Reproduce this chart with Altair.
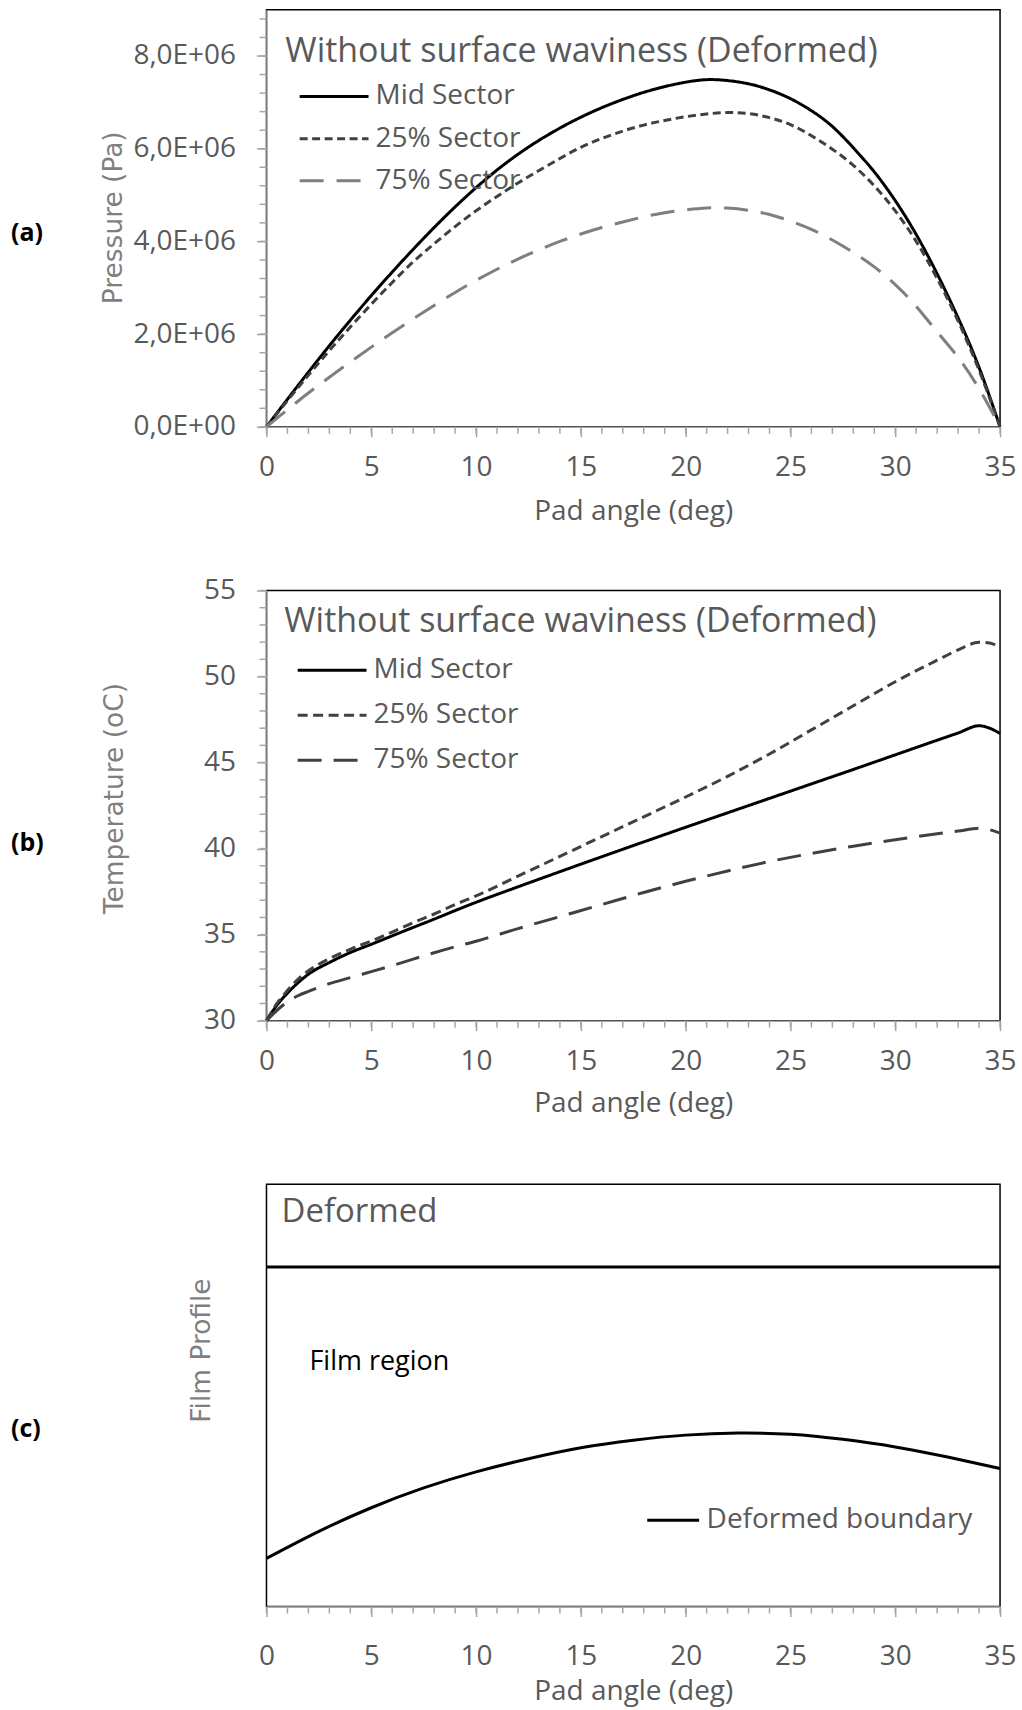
import altair as alt
import pandas as pd

# ---------------- data ----------------
# (a) pressure (Pa) vs pad angle (deg)
p_angle = list(range(36))
p_mid = [0, 0.595e6, 1.18e6, 1.75e6, 2.30e6, 2.83e6, 3.34e6, 3.83e6, 4.30e6, 4.745e6,
         5.16e6, 5.54e6, 5.88e6, 6.18e6, 6.445e6, 6.68e6, 6.885e6, 7.063e6, 7.216e6, 7.34e6,
         7.435e6, 7.49e6, 7.47e6, 7.40e6, 7.27e6, 7.08e6, 6.82e6, 6.48e6, 6.02e6, 5.50e6,
         4.88e6, 4.15e6, 3.30e6, 2.35e6, 1.28e6, 0]
p_25 = [0, 0.565e6, 1.115e6, 1.645e6, 2.155e6, 2.645e6, 3.115e6, 3.56e6, 3.95e6, 4.32e6,
        4.66e6, 4.97e6, 5.26e6, 5.53e6, 5.79e6, 6.03e6, 6.22e6, 6.38e6, 6.51e6, 6.61e6,
        6.69e6, 6.75e6, 6.78e6, 6.76e6, 6.67e6, 6.52e6, 6.28e6, 5.99e6, 5.64e6, 5.20e6,
        4.66e6, 4.00e6, 3.20e6, 2.28e6, 1.22e6, 0]
p_75 = [0, 0.37e6, 0.73e6, 1.07e6, 1.40e6, 1.72e6, 2.03e6, 2.33e6, 2.62e6, 2.90e6,
        3.16e6, 3.40e6, 3.62e6, 3.82e6, 4.00e6, 4.16e6, 4.30e6, 4.42e6, 4.53e6, 4.62e6,
        4.68e6, 4.72e6, 4.72e6, 4.67e6, 4.58e6, 4.44e6, 4.26e6, 4.03e6, 3.76e6, 3.45e6,
        3.07e6, 2.60e6, 2.05e6, 1.50e6, 0.82e6, 0]

# (b) temperature (oC) vs pad angle (deg)
t_angle = [0, 0.5, 1, 1.5, 2, 3, 4, 5, 6, 7, 8, 9, 10, 12, 14, 16, 18, 20, 22, 24, 26,
           28, 30, 32, 33, 34, 34.5, 35]
t_mid = [30, 30.9, 31.6, 32.2, 32.7, 33.38, 33.96, 34.44, 34.93, 35.42, 35.9, 36.4, 36.88,
         37.78, 38.66, 39.53, 40.39, 41.24, 42.08, 42.92, 43.76, 44.6, 45.45, 46.3, 46.72,
         47.14, 47.0, 46.69]
t_25 = [30, 31.0, 31.75, 32.4, 32.9, 33.6, 34.15, 34.63, 35.15, 35.7, 36.2, 36.75, 37.25,
        38.4, 39.55, 40.7, 41.85, 43.0, 44.2, 45.5, 46.9, 48.3, 49.7, 50.95, 51.55, 51.99,
        51.95, 51.7]
t_75 = [30, 30.6, 31.1, 31.45, 31.7, 32.15, 32.5, 32.85, 33.2, 33.58, 33.95, 34.3, 34.62,
        35.35, 36.05, 36.75, 37.45, 38.1, 38.7, 39.25, 39.72, 40.14, 40.52, 40.86, 41.02,
        41.18, 41.1, 40.9]

# (c) film profile (arbitrary units) vs pad angle (deg)
f_angle = [0, 2.5, 5, 7.5, 10, 12.5, 15, 17.5, 20, 22.5, 25, 27.5, 30, 32.5, 35]
f_boundary = [1.14, 1.78, 2.34, 2.81, 3.19, 3.50, 3.76, 3.94, 4.06, 4.11, 4.08, 3.96,
              3.78, 3.54, 3.27]
f_upper_angle = [0, 35]
f_upper = [8.04, 8.04]

series = ["Mid Sector", "25% Sector", "75% Sector"]
x_ticks = [0, 5, 10, 15, 20, 25, 30, 35]
x_minor = list(range(36))
pa_ticks = [0, 2e6, 4e6, 6e6, 8e6]
pa_minor = [i * 4e5 for i in range(23)]
t_ticks = [30, 35, 40, 45, 50, 55]
t_minor = list(range(30, 56))

# ---------------- style ----------------
FONT = "Open Sans"
YFONT = "DejaVu Sans"
TXT = "#595959"
YTXT = "#7f7f7f"
AX = "#a6a6a6"
W = 735
HA, HB, HC = 418, 431, 423
XDOM = alt.Scale(domain=[0, 35], nice=False, zero=False)
LEG_PATH = "M-2,0H2"


def x_axis(lab_pad, title_y):
    return alt.Axis(values=x_ticks, title="Pad angle (deg)", grid=False,
                    tickSize=10, tickColor=AX, tickWidth=1.5,
                    domainColor=AX, domainWidth=1.5,
                    labelFont=FONT, labelFontSize=28, labelColor=TXT,
                    labelPadding=lab_pad, labelFlush=False, labelOverlap=False,
                    titleFont=FONT, titleFontSize=28, titleFontWeight="normal",
                    titleColor=TXT, titleY=title_y, titleBaseline="middle")


def y_axis(title, values, tx, ty, label_expr=None):
    kw = dict(values=values, title=title, grid=False,
              tickSize=10, tickColor=AX, tickWidth=1.5,
              domainColor=AX, domainWidth=1.5,
              labelFont=FONT, labelFontSize=28, labelColor=TXT,
              labelPadding=21, labelFlush=False, labelOverlap=False,
              titleFont=YFONT, titleFontSize=26.5, titleFontWeight="normal",
              titleColor=YTXT, titleAngle=270, titleX=tx, titleY=ty,
              titleAlign="center", titleBaseline="middle")
    if label_expr:
        kw["labelExpr"] = label_expr
    return alt.Axis(**kw)


def y_axis_c():
    return alt.Axis(title="Film Profile", grid=False, ticks=False, labels=False,
                    domain=False, titleFont=YFONT, titleFontSize=26.5,
                    titleFontWeight="normal", titleColor=YTXT, titleAngle=270,
                    titleX=-65, titleY=166, titleAlign="center",
                    titleBaseline="middle")


def legend(lx, ly, size, row_pad, shape, lab_off):
    return alt.Legend(orient="none", legendX=lx, legendY=ly, title=None, padding=0,
                      symbolType=shape, symbolSize=size, symbolStrokeWidth=3,
                      labelFont=FONT, labelFontSize=28, labelColor=TXT,
                      labelOffset=lab_off, rowPadding=row_pad, labelLimit=400)


def minor_x(h, xax):
    return alt.Chart(pd.DataFrame({"angle": x_minor})).mark_rule(
        color=AX, strokeWidth=1.5).encode(
        x=alt.X("angle:Q", scale=XDOM, axis=xax),
        y=alt.value(h), y2=alt.value(h + 7))


def minor_y(vals, ydom, yax):
    return alt.Chart(pd.DataFrame({"value": vals})).mark_rule(
        color=AX, strokeWidth=1.5).encode(
        y=alt.Y("value:Q", scale=ydom, axis=yax),
        x=alt.value(-7), x2=alt.value(0))


def tag(text, ty):
    return alt.Chart(pd.DataFrame({"t": [text]})).mark_text(
        font=FONT, fontSize=25, fontWeight="bold", color="black",
        align="left", baseline="middle").encode(
        x=alt.value(-256), y=alt.value(ty), text="t:N")


def note(text, x, y, xax, ydom, yax, size, color):
    return alt.Chart(pd.DataFrame({"angle": [x], "value": [y], "t": [text]})).mark_text(
        font=FONT, fontSize=size, color=color, align="left",
        baseline="alphabetic").encode(
        x=alt.X("angle:Q", scale=XDOM, axis=xax),
        y=alt.Y("value:Q", scale=ydom, axis=yax), text="t:N")


# ---------------- panel (a) ----------------
df_a = pd.DataFrame({
    "angle": p_angle * 3,
    "value": p_mid + p_25 + p_75,
    "series": [series[0]] * 36 + [series[1]] * 36 + [series[2]] * 36,
})
xax_a = x_axis(17, 85)
ydom_a = alt.Scale(domain=[0, 9e6], nice=False, zero=False)
yax_a = y_axis("Pressure (Pa)", pa_ticks, -153, 208,
               "datum.value == 0 ? '0,0E+00' : replace(format(datum.value / 1000000, '.1f'), '.', ',') + 'E+06'")
leg_a = legend(48.75, 68, 1190, 9.25, LEG_PATH, 22.5)
lines_a = alt.Chart(df_a).mark_line(strokeWidth=3, interpolate="natural").encode(
    x=alt.X("angle:Q", scale=XDOM, axis=xax_a),
    y=alt.Y("value:Q", scale=ydom_a, axis=yax_a),
    color=alt.Color("series:N", sort=series,
                    scale=alt.Scale(domain=series, range=["#000000", "#404040", "#7f7f7f"]),
                    legend=leg_a),
    strokeDash=alt.StrokeDash("series:N", sort=series,
                              scale=alt.Scale(domain=series, range=[[1, 0], [8, 4.5], [24, 13]]),
                              legend=leg_a),
)
panel_a = alt.layer(
    lines_a, minor_x(HA, xax_a), minor_y(pa_minor, ydom_a, yax_a),
    note("Without surface waviness (Deformed)", 0.9, 7.87e6, xax_a, ydom_a, yax_a, 34, TXT),
    tag("(a)", 224),
).properties(width=W, height=HA)

# ---------------- panel (b) ----------------
n = len(t_angle)
df_b = pd.DataFrame({
    "angle": t_angle * 3,
    "value": t_mid + t_25 + t_75,
    "series": [series[0]] * n + [series[1]] * n + [series[2]] * n,
})
xax_b = x_axis(17, 83)
ydom_b = alt.Scale(domain=[30, 55], nice=False, zero=False)
yax_b = y_axis("Temperature (oC)", t_ticks, -152, 208)
leg_b = legend(46.75, 61, 1190, 12, LEG_PATH, 22.5)
lines_b = alt.Chart(df_b).mark_line(strokeWidth=3, interpolate="monotone").encode(
    x=alt.X("angle:Q", scale=XDOM, axis=xax_b),
    y=alt.Y("value:Q", scale=ydom_b, axis=yax_b),
    color=alt.Color("series:N", sort=series,
                    scale=alt.Scale(domain=series, range=["#000000", "#404040", "#404040"]),
                    legend=leg_b),
    strokeDash=alt.StrokeDash("series:N", sort=series,
                              scale=alt.Scale(domain=series, range=[[1, 0], [10, 5.5], [24, 12]]),
                              legend=leg_b),
)
panel_b = alt.layer(
    lines_b, minor_x(HB, xax_b), minor_y(t_minor, ydom_b, yax_b),
    note("Without surface waviness (Deformed)", 0.85, 52.57, xax_b, ydom_b, yax_b, 34, TXT),
    tag("(b)", 253),
).properties(width=W, height=HB)

# ---------------- panel (c) ----------------
xax_c = x_axis(26, 85)
ydom_c = alt.Scale(domain=[0, 10], nice=False, zero=False)
yax_c = y_axis_c()
df_c = pd.DataFrame({"angle": f_angle, "value": f_boundary,
                     "series": ["Deformed boundary"] * len(f_angle)})
df_up = pd.DataFrame({"angle": f_upper_angle, "value": f_upper})
leg_c = legend(380, 309, 2704, 0, "stroke", 6)
boundary_c = alt.Chart(df_c).mark_line(strokeWidth=3, interpolate="natural").encode(
    x=alt.X("angle:Q", scale=XDOM, axis=xax_c),
    y=alt.Y("value:Q", scale=ydom_c, axis=yax_c),
    color=alt.Color("series:N", scale=alt.Scale(domain=["Deformed boundary"], range=["#000000"]),
                    legend=leg_c),
)
upper_c = alt.Chart(df_up).mark_line(strokeWidth=3, color="black").encode(
    x=alt.X("angle:Q", scale=XDOM, axis=xax_c),
    y=alt.Y("value:Q", scale=ydom_c, axis=yax_c),
)
panel_c = alt.layer(
    upper_c, boundary_c, minor_x(HC, xax_c),
    note("Deformed", 0.72, 9.1, xax_c, ydom_c, yax_c, 33, TXT),
    note("Film region", 2.05, 5.61, xax_c, ydom_c, yax_c, 27, "#000000"),
    tag("(c)", 245),
).properties(width=W, height=HC)

chart = alt.vconcat(panel_a, panel_b, panel_c, spacing=164, bounds="flush").resolve_scale(
    color="independent", strokeDash="independent"
).resolve_legend(
    color="independent", strokeDash="independent"
).properties(
    padding={"left": 10, "top": 7, "right": 5, "bottom": 5}, background="white"
).configure_view(stroke="black", strokeWidth=1.5)

chart.save("out.html", embed_options={"renderer": "svg", "actions": False})
